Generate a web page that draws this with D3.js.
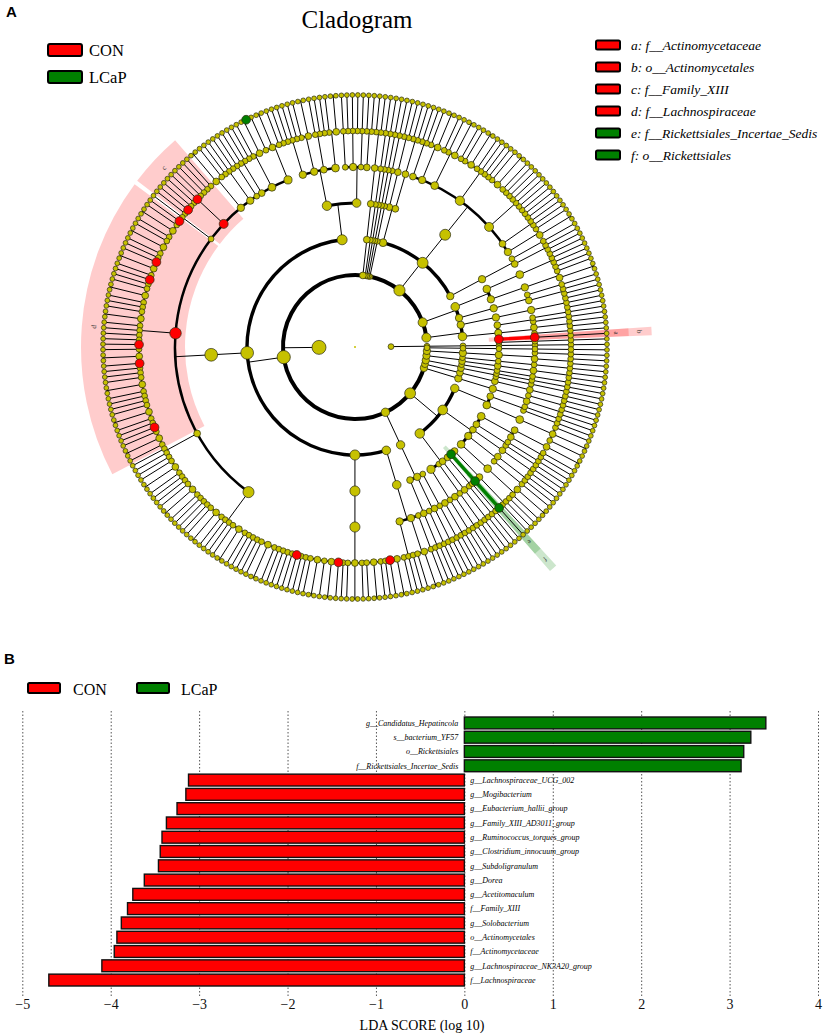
<!DOCTYPE html>
<html><head><meta charset="utf-8">
<script src="https://cdn.jsdelivr.net/npm/d3@7"></script>
<style>body{margin:0;background:#fff}svg{display:block}</style>
</head><body>
<script>
// ================= Panel B data (LDA scores) =================
const barLabels = [
  "g__Candidatus_Hepatincola","s__bacterium_YF57","o__Rickettsiales","f__Rickettsiales_Incertae_Sedis",
  "g__Lachnospiraceae_UCG_002","g__Mogibacterium","g__Eubacterium_hallii_group","g__Family_XIII_AD3011_group",
  "g__Ruminococcus_torques_group","g__Clostridium_innocuum_group","g__Subdoligranulum","g__Dorea",
  "g__Acetitomaculum","f__Family_XIII","g__Solobacterium","o__Actinomycetales","f__Actinomycetaceae",
  "g__Lachnospiraceae_NK3A20_group","f__Lachnospiraceae"];
const barScores = [3.41,3.24,3.16,3.13,-3.12,-3.15,-3.25,-3.37,-3.42,-3.44,-3.46,-3.62,-3.75,-3.81,-3.88,-3.93,-3.96,-4.10,-4.70];
const barGroups = ["LCaP","LCaP","LCaP","LCaP","CON","CON","CON","CON","CON","CON","CON","CON","CON","CON","CON","CON","CON","CON","CON"];
const ldaTicks = [-5,-4,-3,-2,-1,0,1,2,3,4];
const groups = ["CON","LCaP"];

// ================= Panel A data (taxonomy tree) =================
// phylum = [classes], class = [orders], order = [families], family = [genera],
// genus = number of species (or {n,k,sp}); named clades as {n, c}
const archaea = [[[[[1]]]]];
const actinobacteria = [
  [ [[1]], {n:"o__Actinomycetales", c:[{n:"f__Actinomycetaceae", c:[1]}]}, [[1],[1,1]], [[1],[1]] ],
  [ [[1,1,1]] ]
];
const phylumP1 = [ [ [[1,1],[1]] ], [ [[2,1]], [[1,1,1,1]] ] ];
const bacteroidetes = [
  [ [[1,1],[1]] ],
  [ [ [2,1],[1,1],[1,1,1,1,1,1,1,1,1],[2,1,1,1,1,1,2,1,1],[2,1,1],[2,1],[1,1] ] ],
  [ [[1,1]], [[1,1]] ]
];
const smallPhyla = [ [[[[1]]]], [[[[1]]]], [[[[1]]]], [[[[1]]]], [[[[1,1]]]] ];
const familyXIII = {n:"f__Family_XIII", c:[1,1,1,1,{n:"g__Mogibacterium",k:1},1,1,{n:"g__Family_XIII_AD3011_group",k:1},1]};
const lachnospiraceae = {n:"f__Lachnospiraceae", c:[
  {n:"g__Acetitomaculum",k:1},1,2,1,1,2,1,1,{n:"g__Eubacterium_hallii_group",k:1},2,1,
  {n:"g__Dorea",k:1},1,1,2,1,1,1,2,1,1,1,1,{n:"g__Lachnospiraceae_NK3A20_group",k:1},1,2,
  {n:"g__Lachnospiraceae_UCG_002",k:1},1,1,1,2,1,1,1,1,2,1,1,{n:"g__Ruminococcus_torques_group",k:1},1,2,1]};
const ruminococcaceae = {n:"f__Ruminococcaceae", c:[
  1,1,2,1,1,1,1,2,1,1,1,1,1,2,1,1,1,1,2,1,1,1,1,1,2,1,1,1,1,1,{n:"g__Subdoligranulum",k:1},1,1]};
const peptostreptococcaceae = [{k:2, sp:["s__bacterium_YF57"]},1,1];
const clostridiales = {n:"o__Clostridiales", c:[
  [1,1,2,1], peptostreptococcaceae, [1,1], [1], [1,1,1], [1,2], familyXIII, [1], lachnospiraceae, [1,1], ruminococcaceae]};
const firmicutes = [
  [ [[1,1],[1],[1,1,1],[1]], [[2,1,1],[1,1],[2,1],[1,1,1]] ],
  [ clostridiales ],
  [ [ [1,2,1,2,{n:"g__Clostridium_innocuum_group",k:1},1,1,2,1,1,2,1,1,{n:"g__Solobacterium",k:1},2] ] ],
  [ [[1,1,1],[1,2],[1]] ]
];
const tenericutes = [ [ [[1,1]], [[1],[1,1]], [[1]] ] ];
const rickettsiales = {n:"o__Rickettsiales", c:[{n:"f__Rickettsiales_Incertae_Sedis", c:[{n:"g__Candidatus_Hepatincola",k:1}]}]};
const proteobacteria = [
  [ [[1,1],[1],[1,1]], [[1]], [[1,1]], [[1],[1]], rickettsiales, [[1,1]] ],
  [ [[1,1,2]], [[1],[1,1]], [[1,1]], [[1],[1]], [[1,1],[2]] ],
  [ [[1,2,1]], [[1],[1]] ]
];
const otherPhyla = [
  [ [ [[1,1],[1]] ] ], [ [ [[1,1]] ] ], [ [ [[1]], [[1]] ], [ [[1]] ] ],
  [ [ [[1,1]] ], [ [[1]] ] ], [ [ [[1,1],[1]] ] ], [ [ [[1]] ] ]
];
const bacteria = [actinobacteria, phylumP1, bacteroidetes, ...smallPhyla, firmicutes, tenericutes, proteobacteria, ...otherPhyla];
const cladeLetters = [["a","f__Actinomycetaceae"],["b","o__Actinomycetales"],["c","f__Family_XIII"],
  ["d","f__Lachnospiraceae"],["e","f__Rickettsiales_Incertae_Sedis"],["f","o__Rickettsiales"]];

// ================= build =================
const W = 829, H = 1036;
const svg = d3.select("body").append("svg").attr("width", W).attr("height", H)
  .style("font-family", '"Liberation Serif","Times New Roman",serif');
const colorOf = {CON:"#ff0000", LCaP:"#008000"};
const sig = new Map(barLabels.map((l,i)=>[l, barGroups[i]]));
const YEL = "#c6c100";

function build(spec, name){
  if (typeof spec === "number") return {name:name||null, children:d3.range(spec).map(()=>({name:null}))};
  if (Array.isArray(spec)) return {name:name||null, children:spec.map(s=>build(s))};
  if (spec.k !== undefined) return {name:spec.n||null, children:d3.range(spec.k).map(i=>({name:(spec.sp&&spec.sp[i])||null}))};
  return {name:spec.n, children:spec.c.map(s=>build(s))};
}
const rootData = {name:"root", children:[build(archaea,"k__Archaea"), build(bacteria,"k__Bacteria")]};
const root = d3.hierarchy(rootData, d=>d.children);
root.count();
const leaves = root.leaves();
const N = leaves.length;
const CX = 355, CY = 347;
const rLevel = d3.scaleLinear().domain([0,7]).range([0,252]);
const ang = d3.scaleLinear().domain([0,N]).range([0.6, 360.6]);
const step = 360/N;
leaves.forEach((l,i)=>{ l.theta = ang(i); l.first = l.theta; l.last = l.theta; });
root.eachAfter(n=>{ if(n.children){ n.first = n.children[0].first; n.last = n.children[n.children.length-1].last; n.theta = (n.first+n.last)/2; } });
const rad = t => t*Math.PI/180;
const pt = (r,t) => [CX + r*Math.cos(rad(t)), CY - r*Math.sin(rad(t))];
function arcPath(r,t1,t2){ const p=d3.path(); const a1=-rad(t1), a2=-rad(t2); p.moveTo(CX+r*Math.cos(a1), CY+r*Math.sin(a1)); p.arc(CX,CY,r,a1,a2,true); return p.toString(); }
const nodeGroup = n => (n.data.name && sig.has(n.data.name)) ? sig.get(n.data.name) : null;

const gA = svg.append("g");
// clade shading sectors
const byName = new Map(); root.each(n=>{ if(n.data.name) byName.set(n.data.name, n); });
const sectorArc = d3.arc();
const sectors = cladeLetters.map(([letter,name])=>{ const n=byName.get(name); return {letter, n, grp:sig.get(name)}; })
  .sort((a,b)=>a.n.depth-b.n.depth);
sectors.forEach(s=>{
  const n = s.n, outer = 274 + (5-n.depth)*23;
  s.outer = outer;
  const t1 = n.first - 0.65*step, t2 = n.last + 0.65*step;
  gA.append("path").attr("transform",`translate(${CX},${CY})`)
    .attr("d", sectorArc({innerRadius:rLevel(n.depth)-10, outerRadius:outer, startAngle:rad(90-t2), endAngle:rad(90-t1)}))
    .attr("fill", colorOf[s.grp]).attr("fill-opacity", 0.2);
});
// edges
const widthByDepth = {2:4, 3:3.4, 4:3, 5:2.5, 6:1.5, 7:1};
const gE = gA.append("g").attr("fill","none").attr("stroke","#000");
root.each(p=>{
  if(!p.children || p.depth===0) return;
  const rp = rLevel(p.depth), rc = rLevel(p.depth+1);
  const a = pt(rp,p.theta), b = pt(rc,p.theta);
  gE.append("line").attr("x1",a[0]).attr("y1",a[1]).attr("x2",b[0]).attr("y2",b[1]).attr("stroke-width",1);
  const ts = p.children.map(c=>c.theta).concat([p.theta]);
  const tmin = d3.min(ts), tmax = d3.max(ts);
  if (tmax - tmin > 0.01) gE.append("path").attr("d", arcPath(rc,tmin,tmax)).attr("stroke-width", widthByDepth[p.depth+1]);
});
// coloured edges: significant single-child lineages
root.each(p=>{
  if(!p.children || p.depth===0 || p.children.length!==1) return;
  const gp = nodeGroup(p); if(!gp) return;
  const c = p.children[0];
  if(nodeGroup(c)!==gp) return;
  const a = pt(rLevel(p.depth),p.theta), b = pt(rLevel(c.depth),c.theta);
  gA.append("line").attr("x1",a[0]).attr("y1",a[1]).attr("x2",b[0]).attr("y2",b[1]).attr("stroke",colorOf[gp]).attr("stroke-width",3.4);
});
// nodes
const sizeInt = d3.scaleLog().domain([1,N]).range([2.9,7.0]);
const nodes = root.descendants().filter(n=>n.depth>0);
nodes.sort((a,b)=> (nodeGroup(a)?1:0)-(nodeGroup(b)?1:0));
gA.append("g").selectAll("circle").data(nodes).join("circle")
  .attr("cx", n=>pt(rLevel(n.depth),n.theta)[0]).attr("cy", n=>pt(rLevel(n.depth),n.theta)[1])
  .attr("r", n=>{ let r = n.depth===7 ? 2.4 : sizeInt(n.value); if(nodeGroup(n)) r=Math.max(r,4.4); return r; })
  .attr("fill", n=> nodeGroup(n) ? colorOf[nodeGroup(n)] : YEL)
  .attr("stroke","#2a2a10").attr("stroke-width",0.7);
gA.append("circle").attr("cx",CX).attr("cy",CY).attr("r",1).attr("fill",YEL);
// clade letters
sectors.forEach(s=>{
  const t = s.n.theta, p = pt(s.outer-12, t);
  gA.append("text").attr("x",p[0]).attr("y",p[1]).attr("text-anchor","middle").attr("dy","0.35em")
    .attr("font-size",7).attr("fill","#333").attr("transform",`rotate(${90-t},${p[0]},${p[1]})`).text(s.letter);
});

// Panel A labels & legends
svg.append("text").attr("x",6).attr("y",17).attr("font-family","Liberation Sans,Arial,sans-serif").attr("font-weight","bold").attr("font-size",15).text("A");
svg.append("text").attr("x",357).attr("y",28).attr("text-anchor","middle").attr("font-size",25).text("Cladogram");
groups.forEach((g,i)=>{
  const y0 = 44 + i*27;
  svg.append("rect").attr("x",48).attr("y",y0).attr("width",34).attr("height",12).attr("rx",2)
    .attr("fill",colorOf[g]).attr("stroke","#000").attr("stroke-width",2);
  svg.append("text").attr("x",89).attr("y",y0+12).attr("font-size",16.5).text(g);
});
cladeLetters.forEach(([letter,name],i)=>{
  const yc = 45 + i*22;
  svg.append("rect").attr("x",596).attr("y",yc-4.5).attr("width",24).attr("height",9).attr("rx",1.5)
    .attr("fill",colorOf[sig.get(name)]).attr("stroke","#000").attr("stroke-width",2);
  svg.append("text").attr("x",631).attr("y",yc+4.5).attr("font-size",13.5).attr("font-style","italic").text(`${letter}: ${name}`);
});

// ================= Panel B =================
const x = d3.scaleLinear().domain([-5,4]).range([22.3,818]);
const y = d3.scaleBand().domain(barLabels).range([717,986]).paddingInner(0.17);
svg.append("text").attr("x",4).attr("y",664).attr("font-family","Liberation Sans,Arial,sans-serif").attr("font-weight","bold").attr("font-size",15).text("B");
const legX = [[28,73],[137,181]];
groups.forEach((g,i)=>{
  svg.append("rect").attr("x",legX[i][0]).attr("y",683).attr("width",32).attr("height",10).attr("rx",1.5)
    .attr("fill",colorOf[g]).attr("stroke","#000").attr("stroke-width",2);
  svg.append("text").attr("x",legX[i][1]).attr("y",694.5).attr("font-size",16).text(g);
});
const axisG = svg.append("g").attr("transform","translate(0,996)")
  .call(d3.axisBottom(x).tickValues(ldaTicks).tickSize(-287).tickPadding(3));
axisG.select(".domain").remove();
axisG.selectAll(".tick line").attr("stroke","#555").attr("stroke-dasharray","1.5,2");
axisG.selectAll(".tick text").attr("font-size",14).attr("font-family",'"Liberation Serif",serif').attr("fill","#111");
svg.append("text").attr("x",422).attr("y",1030).attr("text-anchor","middle").attr("font-size",14).text("LDA SCORE (log 10)");
const bars = barLabels.map((l,i)=>({l, v:barScores[i], g:barGroups[i]}));
svg.append("g").selectAll("rect").data(bars).join("rect")
  .attr("x", d=>Math.min(x(0),x(d.v))).attr("width", d=>Math.abs(x(d.v)-x(0)))
  .attr("y", d=>y(d.l)).attr("height", y.bandwidth())
  .attr("fill", d=>colorOf[d.g]).attr("stroke","#111").attr("stroke-width",1.4);
svg.append("g").selectAll("text").data(bars).join("text")
  .attr("x", d=> d.v>0 ? x(0)-6 : x(0)+6).attr("text-anchor", d=> d.v>0 ? "end":"start")
  .attr("y", d=>y(d.l)+y.bandwidth()/2).attr("dy","0.35em")
  .attr("font-size",8).attr("font-style","italic").attr("fill","#000").text(d=>d.l);
</script>
</body></html>
